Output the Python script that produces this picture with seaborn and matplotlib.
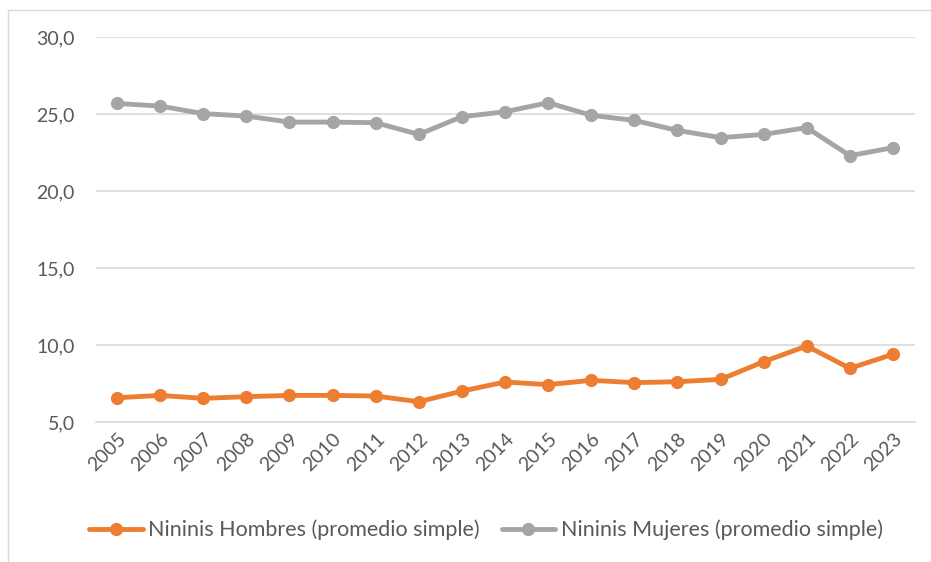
import pandas as pd
import matplotlib
matplotlib.use("Agg")
import matplotlib.pyplot as plt
from matplotlib.patches import Rectangle
import seaborn as sns

# datos
years = ["2005", "2006", "2007", "2008", "2009", "2010", "2011", "2012", "2013", "2014",
         "2015", "2016", "2017", "2018", "2019", "2020", "2021", "2022", "2023"]
hombres = [6.58, 6.73, 6.54, 6.65, 6.73, 6.73, 6.69, 6.32, 7.01, 7.60,
           7.43, 7.71, 7.56, 7.62, 7.77, 8.92, 9.94, 8.49, 9.40]
mujeres = [25.69, 25.52, 25.03, 24.87, 24.48, 24.48, 24.44, 23.68, 24.83, 25.15,
           25.74, 24.92, 24.59, 23.94, 23.47, 23.68, 24.12, 22.30, 22.82]
series_names = ["Nininis Hombres (promedio simple)", "Nininis Mujeres (promedio simple)"]
colors = ["#ED7D31", "#A5A5A5"]
y_ticks = [5, 10, 15, 20, 25, 30]

df = pd.DataFrame({
    "year": years * 2,
    "value": hombres + mujeres,
    "serie": [series_names[0]] * len(years) + [series_names[1]] * len(years),
})

sns.set_style("white")
plt.rcParams["font.family"] = ["Lato", "DejaVu Sans"]

fig = plt.figure(figsize=(9.31, 5.62), dpi=100)
ax = fig.add_axes([0.1026, 0.249, 0.8797, 0.685])

sns.lineplot(data=df, x="year", y="value", hue="serie", palette=colors,
             marker="o", markersize=9.5, markeredgewidth=0, linewidth=3.5,
             sort=False, ax=ax, legend=True)

ax.set_xlim(-0.5, len(years) - 0.5)
ax.set_ylim(5, 30)
ax.set_yticks(y_ticks)
ax.set_yticklabels([f"{v:.1f}".replace(".", ",") for v in y_ticks])
ax.yaxis.grid(True, color="#D9D9D9", linewidth=1.2)
ax.set_axisbelow(True)
for s in ["top", "right", "left"]:
    ax.spines[s].set_visible(False)
ax.spines["bottom"].set_color("#D9D9D9")
ax.spines["bottom"].set_linewidth(1.2)
ax.tick_params(axis="both", length=0, labelsize=14, labelcolor="#595959")
ax.tick_params(axis="y", pad=15)
ax.tick_params(axis="x", pad=6)
plt.setp(ax.get_xticklabels(), rotation=45, ha="right", rotation_mode="anchor")
ax.set_xlabel("")
ax.set_ylabel("")

handles, labels = ax.get_legend_handles_labels()
ax.get_legend().remove()
fig.legend(handles, labels, loc="center", bbox_to_anchor=(0.522, 0.057), ncol=2,
           frameon=False, fontsize=15.5, handlelength=2.5, columnspacing=1.0,
           handletextpad=0.25, labelcolor="#595959")

# marco del grafico
fig.patches.append(Rectangle((8 / 931, -0.01), 1.0, 1 - 10 / 562 + 0.01,
                             transform=fig.transFigure, fill=False,
                             edgecolor="#D9D9D9", linewidth=1))

fig.savefig("out.png", dpi=100)
